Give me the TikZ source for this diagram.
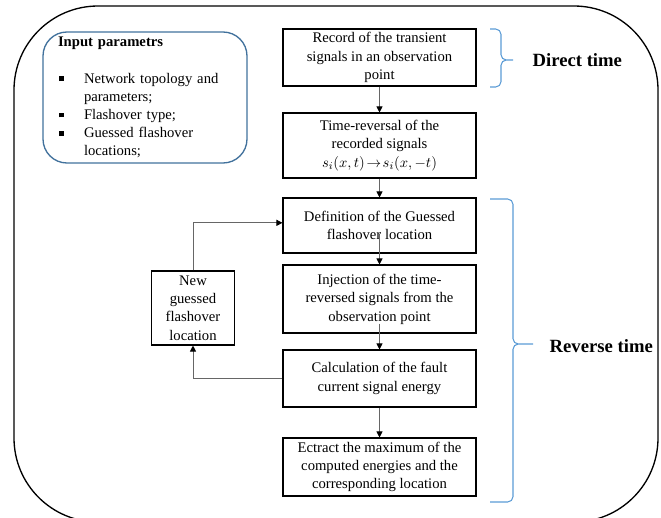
\documentclass[tikz,border=0pt]{standalone}
\usepackage{fontspec}
\setmainfont{Liberation Serif}
\usepackage{amsmath}
\usetikzlibrary{arrows.meta, positioning}

\definecolor{bracecol}{HTML}{5B9BD5}
\definecolor{inputcol}{HTML}{41719C}
\newcommand{\sqbullet}{\rule[1.6pt]{3.6pt}{3.6pt}}

\tikzset{
  procbox/.style={draw, line width=0.8pt, minimum width=144.75pt, align=center, inner sep=0pt, font=\fontsize{11}{13.8}\selectfont},
  inputbox/.style={draw=inputcol, line width=1pt, rounded corners=18pt, text width=130.5pt, align=left, inner xsep=11.25pt, inner ysep=0pt, minimum height=98.25pt, font=\fontsize{11}{13.65}\selectfont},
  flow/.style={draw=black!60, line width=0.75pt, -{Triangle[length=4.5pt,width=4.5pt,black]}},
  timebrace/.style={draw=bracecol, line width=0.8pt, rounded corners=4pt},
  timelabel/.style={anchor=west, font=\fontsize{14}{16}\selectfont\bfseries},
}

\begin{document}
\begin{tikzpicture}[x=0.75pt, y=-0.75pt]

\useasboundingbox (0,0) rectangle (661,518);
\clip (0,0) rectangle (661,518);

\draw[line width=1pt, rounded corners=63pt] (14,6) rectangle (658,522);

\node[inputbox] (inputs) at (145,97.5) {%
\begin{tabular}{@{\hspace{1pt}}p{18.5pt}@{}l@{}}
\multicolumn{2}{@{}l}{\textbf{Input parametrs}}\\[14pt]
\sqbullet & Network topology and\\
 & parameters;\\
\sqbullet & Flashover type;\\
\sqbullet & Guessed flashover\\
 & locations;
\end{tabular}};

\node[procbox, minimum height=42.75pt] (record) at (379.5,57.5) {Record of the transient\\signals in an observation\\point};
\node[procbox, minimum height=48.75pt] (reversal) at (379.5,145.5) {Time-reversal of the\\recorded signals\\$s_i(x,t)\!\rightarrow\! s_i(x,-t)$};
\node[procbox, minimum height=41.25pt] (define) at (379.5,225.5) {Definition of the Guessed\\flashover location};
\node[procbox, minimum height=51pt] (inject) at (379.5,299) {Injection of the time-\\reversed signals from the\\observation point};
\node[procbox, minimum height=42.75pt] (energy) at (379.5,378.5) {Calculation of the fault\\current signal energy};
\node[procbox, minimum height=43.5pt] (extract) at (379.5,467) {Ectract the maximum of the\\computed energies and the\\corresponding location};
\node[procbox, minimum width=62.25pt, minimum height=55.5pt] (newloc) at (193,308) {New\\guessed\\flashover\\location};

\draw[flow] (record) -- (reversal);
\draw[flow] (reversal) -- (define);
\draw[flow] ([yshift=15pt]define.south) -- (inject.north);
\draw[flow] ([yshift=7.5pt]inject.south) -- (energy.north);
\draw[flow] (energy) -- (extract);
\draw[flow] (energy.west) -| (newloc.south);
\draw[flow] (newloc.north) |- ([yshift=2pt]define.west);

% time ranges
\draw[timebrace] (490,29) -| (501,60) -- (513,60) (513,60) -- (501,60) |- (490,87);
\draw[timebrace] (490,199) -| (513,344) -- (533,344) (533,344) -- (513,344) |- (490,502);
\node[timelabel] (direct) at (528,60) {Direct time};
\node[timelabel] (reverse) at (545,346) {Reverse time};

\end{tikzpicture}
\end{document}
